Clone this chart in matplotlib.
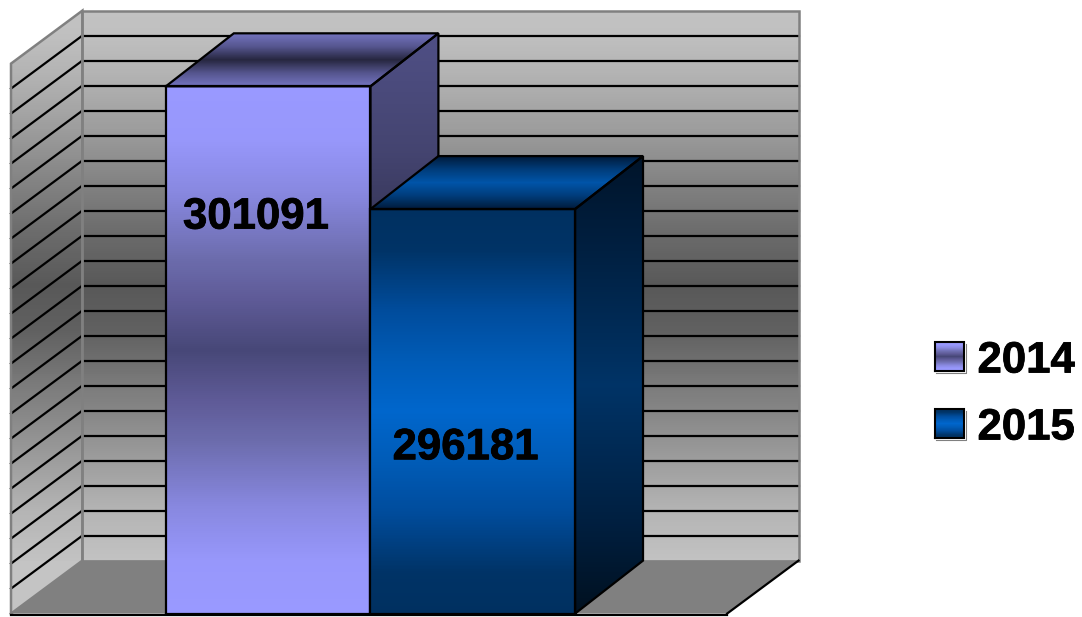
import numpy as np
import matplotlib
matplotlib.use('Agg')
import matplotlib.pyplot as plt
import matplotlib.patheffects as pe
from matplotlib.colors import LinearSegmentedColormap
from matplotlib.patches import Polygon

# Data
years = ['2014', '2015']
values = [301091, 296181]
axis_min = 280000
axis_max = 302000
grid_step = 1000

# 3D look: bar width is the x unit
x_end = 3.5
bar_start = 0.757
wall_depth_x = 0.349
bar_depth_x = 0.332
depth_y = 2120

# share of bar height and shift from centre for the value labels
label_height = [0.752, 0.41]
label_shift = [-0.06, -0.035]

plt.rcParams['font.family'] = ['Liberation Sans', 'DejaVu Sans']

# gradients run from the bottom of a face to its top
purple = [(0, '#9999ff'), (0.1, '#9797fb'), (0.2, '#8888e0'), (0.33, '#6b6bab'), (0.4, '#5f5b98'), (0.5, '#474777'),
          (0.6, '#5f5b98'), (0.67, '#6b6bab'), (0.8, '#8888e0'), (0.9, '#9797fb'), (1, '#9999ff')]
blue = [(0, '#003060'), (0.1, '#003366'), (0.25, '#004c9c'), (0.38, '#005cb8'), (0.5, '#0066cc'),
        (0.62, '#005cb8'), (0.75, '#004c9c'), (0.9, '#003366'), (1, '#003060')]
front_stops = [purple, blue]
side_stops = [[(0, '#4f4f85'), (0.2, '#444470'), (0.5, '#24243c'), (0.8, '#444470'), (1, '#4f4f85')],
              [(0, '#00101f'), (0.2, '#001f40'), (0.5, '#003366'), (0.8, '#001f40'), (1, '#00142a')]]
top_stops = [[(0, '#7373bf'), (0.25, '#55558e'), (0.5, '#26263f'), (0.75, '#55558e'), (1, '#7373bf')],
             [(0, '#001a3a'), (0.25, '#003c7a'), (0.5, '#0054a8'), (0.75, '#003c7a'), (1, '#001a3a')]]
wall_stops = [(0, '#c2c2c2'), (0.09, '#b4b4b4'), (0.2, '#989898'), (0.32, '#7a7a7a'), (0.42, '#606060'), (0.5, '#585858'),
              (0.59, '#6a6a6a'), (0.68, '#808080'), (0.79, '#9e9e9e'), (0.87, '#b0b0b0'), (0.96, '#c0c0c0'), (1, '#c2c2c2')]


def shaded_face(axis, corners, stops, z, y_range=None):
    # vertical gradient clipped to the face
    cmap = LinearSegmentedColormap.from_list('face', stops)
    xs = [p[0] for p in corners]
    ys = [p[1] for p in corners]
    y0, y1 = y_range if y_range else (min(ys), max(ys))
    C = np.linspace(0, 1, 256)[:, None]
    mesh = axis.pcolormesh([min(xs), max(xs)], np.linspace(y0, y1, 257), C, cmap=cmap, vmin=0, vmax=1, zorder=z)
    mesh.set_clip_path(Polygon(corners, closed=True, transform=axis.transData))


def outline(axis, corners, color, lw, z):
    pts = list(corners) + [corners[0]]
    axis.plot([p[0] for p in pts], [p[1] for p in pts], color=color, lw=lw, zorder=z, solid_joinstyle='miter')


fig = plt.figure(figsize=(10.82, 6.17), dpi=100, facecolor='white')
ax = fig.add_axes([0, 0, 1, 1])
px_x = 204.6
px_y = 0.025
ax.set_xlim(-11 / px_x, (1082 - 11) / px_x)
ax.set_ylim(axis_min - 3.4 / px_y, axis_min + 613.6 / px_y)
ax.axis('off')

back_y0 = axis_min + depth_y
back_y1 = axis_max + depth_y

# walls and floor
back_wall = [(wall_depth_x, back_y0), (x_end + wall_depth_x, back_y0), (x_end + wall_depth_x, back_y1), (wall_depth_x, back_y1)]
left_wall = [(0, axis_min), (wall_depth_x, back_y0), (wall_depth_x, back_y1), (0, axis_max)]
floor = [(0, axis_min), (x_end, axis_min), (x_end + wall_depth_x, back_y0), (wall_depth_x, back_y0)]
shaded_face(ax, back_wall, wall_stops, 1)
ax.fill([p[0] for p in left_wall], [p[1] for p in left_wall], color='#c4c4c4', lw=0, zorder=0.5)
shaded_face(ax, left_wall, wall_stops, 1, y_range=(back_y0, back_y1))
ax.fill([p[0] for p in floor], [p[1] for p in floor], color='#808080', lw=0, zorder=1.5)

# gridlines
for v in np.arange(axis_min + grid_step, axis_max, grid_step):
    ax.plot([wall_depth_x, x_end + wall_depth_x], [v + depth_y, v + depth_y], color='black', lw=1.6, zorder=2)
    ax.plot([0, wall_depth_x], [v, v + depth_y], color='black', lw=1.6, zorder=2)

outline(ax, back_wall, '#808080', 1.8, 3)
outline(ax, left_wall, '#808080', 1.8, 3)

# baseline and floor edge
ax.plot([0, x_end], [axis_min - 1.5 / px_y] * 2, color='black', lw=1.6, zorder=3)
ax.plot([x_end, x_end + wall_depth_x], [axis_min, back_y0], color='black', lw=1.6, zorder=3)

# bars
for i, v in enumerate(values):
    x0 = bar_start + i
    x1 = x0 + 1
    z = 10 + i
    front = [(x0, axis_min), (x1, axis_min), (x1, v), (x0, v)]
    side = [(x1, axis_min), (x1 + bar_depth_x, back_y0), (x1 + bar_depth_x, v + depth_y), (x1, v)]
    top = [(x0, v), (x1, v), (x1 + bar_depth_x, v + depth_y), (x0 + bar_depth_x, v + depth_y)]
    for face, stops in [(side, side_stops[i]), (top, top_stops[i]), (front, front_stops[i])]:
        shaded_face(ax, face, stops, z)
        outline(ax, face, 'black', 1.6, z + 0.5)
    ax.text(x0 + 0.5 + label_shift[i], axis_min + (v - axis_min) * label_height[i], str(v),
            ha='center', va='center', fontsize=31.5, fontweight='bold', color='black', zorder=20,
            path_effects=[pe.withStroke(linewidth=0.6, foreground='black')])

# legend, placed in pixels
leg = fig.add_axes([0, 0, 1, 1])
leg.set_xlim(0, 1082)
leg.set_ylim(617, 0)
leg.axis('off')
leg.patch.set_alpha(0)
leg_y = [356.5, 423.5]
for i, year in enumerate(years):
    y = leg_y[i]
    box = [(935, y + 14.5), (964, y + 14.5), (964, y - 14.5), (935, y - 14.5)]
    shaded_face(leg, box, front_stops[i], 5, y_range=(y + 14.5, y - 14.5))
    outline(leg, box, 'black', 1.5, 6)
    leg.plot([936, 965.5, 965.5], [y + 16, y + 16, y - 13], color='#808080', lw=0.8, zorder=4)
    leg.text(977.5, y + 4.5, year, ha='left', va='center', fontsize=31.5, fontweight='bold', color='black',
             path_effects=[pe.withStroke(linewidth=0.6, foreground='black')])

fig.savefig('out.png', dpi=100, facecolor='white')
